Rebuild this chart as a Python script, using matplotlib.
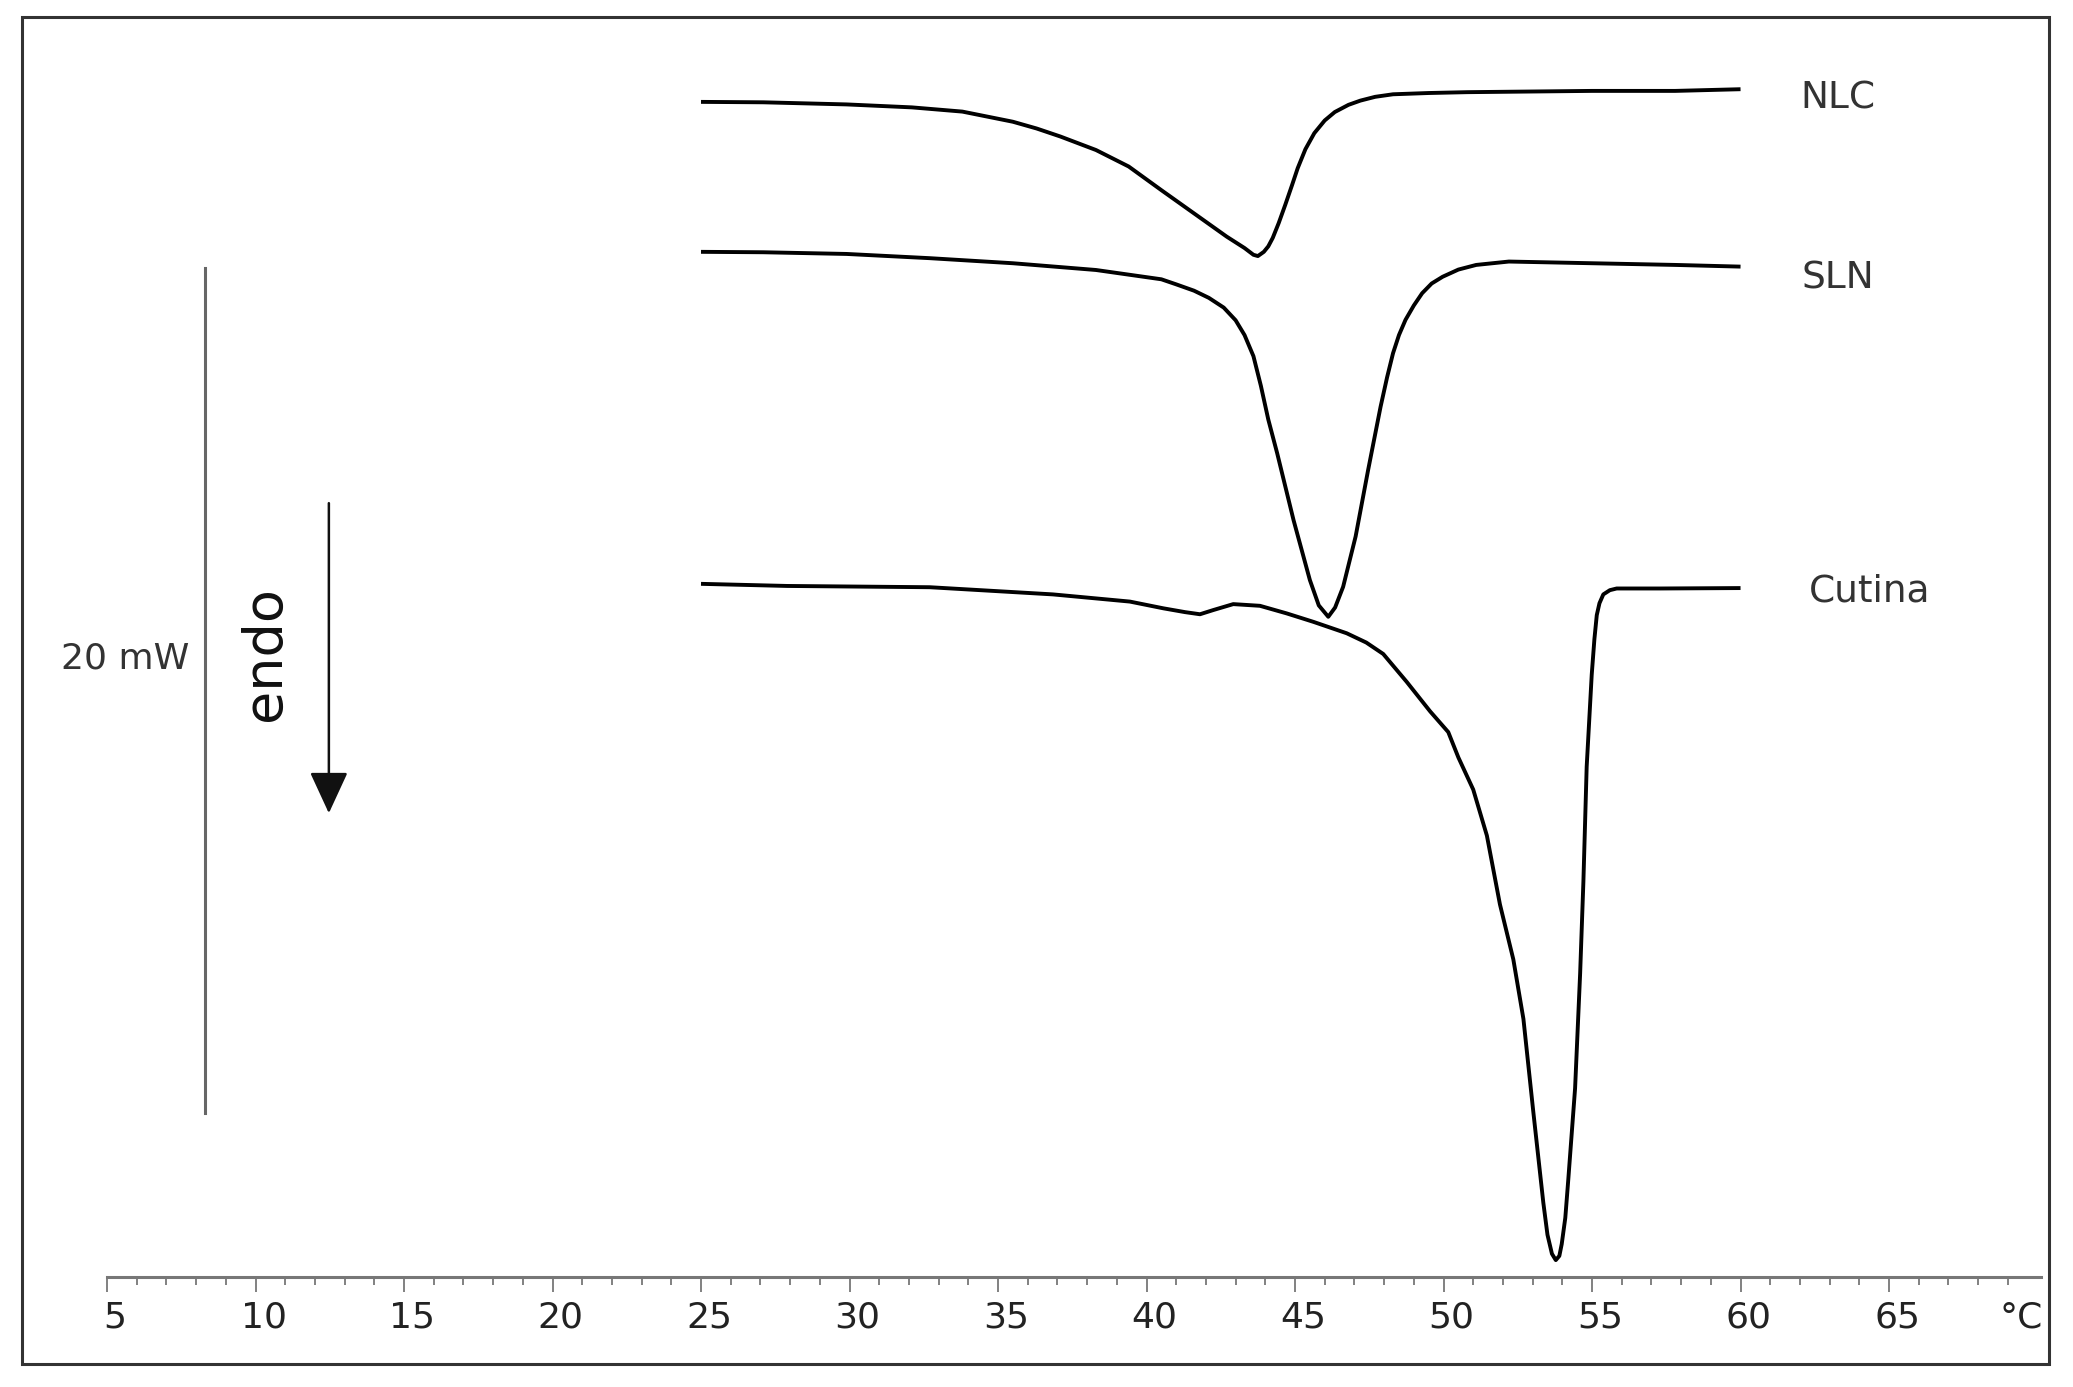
import numpy as np
import matplotlib.pyplot as plt
import matplotlib.transforms as mtransforms
from matplotlib.patches import Rectangle

# DSC thermograms, temperature (°C) vs offset heat flow (mW), endo down
nlc_t = [25.0, 27.1, 29.9, 32.1, 33.8, 35.5, 36.3, 37.1, 38.3, 39.4, 40.5, 41.6, 42.7,
         43.3, 43.6, 43.75, 43.95, 44.1, 44.25, 44.45, 44.67, 44.9, 45.09, 45.35,
         45.65, 46.0, 46.34, 46.8, 47.2, 47.7, 48.3, 49.5, 50.8, 55.0, 57.8, 60.0]
nlc_y = [27.82, 27.81, 27.76, 27.69, 27.59, 27.35, 27.19, 27.00, 26.68, 26.29, 25.73, 25.18, 24.63,
         24.36, 24.20, 24.17, 24.27, 24.40, 24.60, 24.95, 25.38, 25.85, 26.25, 26.70,
         27.08, 27.38, 27.58, 27.75, 27.85, 27.94, 28.00, 28.03, 28.05, 28.08, 28.08, 28.12]

sln_t = [25.0, 27.1, 29.9, 32.7, 35.5, 38.3, 40.5, 41.0, 41.6, 42.1, 42.6, 43.0, 43.3,
         43.6, 43.85, 44.1, 44.4, 44.95, 45.5, 45.8, 46.12, 46.35, 46.62, 47.04, 47.46,
         47.88, 48.1, 48.3, 48.5, 48.72, 49.0, 49.28, 49.6, 49.97, 50.5, 51.1, 52.2,
         55.0, 57.8, 60.0]
sln_y = [24.27, 24.26, 24.22, 24.12, 24.00, 23.84, 23.62, 23.50, 23.35, 23.18, 22.95, 22.65, 22.30,
         21.80, 21.10, 20.30, 19.50, 17.92, 16.50, 15.90, 15.63, 15.85, 16.34, 17.53, 19.10,
         20.60, 21.30, 21.87, 22.30, 22.66, 23.00, 23.29, 23.52, 23.68, 23.85, 23.96, 24.04,
         24.00, 23.96, 23.92]

cut_t = [25.0, 27.9, 32.7, 36.85, 39.44, 40.57, 41.3, 41.8, 42.25, 42.92, 43.82, 44.72,
         45.62, 46.74, 47.4, 47.97, 48.76, 49.55, 50.16, 50.5, 51.0, 51.46, 51.9, 52.35,
         52.69, 53.02, 53.36, 53.5, 53.65, 53.78, 53.9, 53.98, 54.1, 54.2, 54.43, 54.6,
         54.71, 54.82, 54.99, 55.08, 55.16, 55.25, 55.38, 55.6, 55.83, 57.3, 60.0]
cut_y = [16.41, 16.36, 16.33, 16.16, 15.99, 15.83, 15.74, 15.69, 15.79, 15.93, 15.89, 15.71,
         15.51, 15.24, 15.02, 14.75, 14.09, 13.39, 12.90, 12.30, 11.54, 10.45, 8.82, 7.52,
         6.11, 3.93, 1.76, 1.00, 0.55, 0.40, 0.50, 0.78, 1.40, 2.30, 4.47, 7.19,
         9.37, 12.08, 14.26, 15.10, 15.67, 15.95, 16.16, 16.26, 16.30, 16.30, 16.31]

names = ["NLC", "SLN", "Cutina"]
label_pos = [(62.0, 27.91), (62.05, 23.65), (62.3, 16.22)]

major_ticks = list(range(5, 70, 5))
minor_ticks = list(range(5, 70))

scale_t = 8.3
scale_lo = 3.88
scale_mw = 20

fig = plt.figure(figsize=(20.73, 13.87), dpi=100)
ax = fig.add_axes([107 / 2073, 110 / 1387, (2040.5 - 107) / 2073, 1247 / 1387])

for t, y in [(nlc_t, nlc_y), (sln_t, sln_y), (cut_t, cut_y)]:
    ax.plot(t, y, color="black", lw=2.8, solid_joinstyle="round", solid_capstyle="butt")

for name, (tx, ty) in zip(names, label_pos):
    ax.text(tx, ty, name, ha="left", va="center", fontsize=27, color="#333333")

ax.set_xlim(5, 70.1)
ax.set_ylim(0, 1247 / 42.24)

for s in ["left", "right", "top"]:
    ax.spines[s].set_visible(False)
ax.spines["bottom"].set_color("#777777")
ax.spines["bottom"].set_linewidth(2.2)

ax.set_yticks([])
ax.set_xticks(major_ticks)
ax.set_xticks(minor_ticks, minor=True)
ax.tick_params(axis="x", which="major", direction="out", length=11, width=1.3,
               color="#777777", pad=6, labelsize=26, labelcolor="#222222")
ax.tick_params(axis="x", which="minor", direction="out", length=6, width=1.3,
               color="#777777")
shift = mtransforms.ScaledTranslation(0.08, 0, fig.dpi_scale_trans)
for lab in ax.get_xticklabels():
    lab.set_transform(lab.get_transform() + shift)

ax.annotate("°C", xy=(69.45, 0), xycoords=("data", "axes fraction"),
            xytext=(0, -17), textcoords="offset points", ha="center", va="top",
            fontsize=26, color="#222222")

# scale bar and endo arrow
ax.plot([scale_t, scale_t], [scale_lo, scale_lo + scale_mw], color="#666666", lw=2.2)
ax.text(5.6, 14.65, "20 mW", ha="center", va="center", fontsize=26, color="#333333")
ax.text(10.32, 14.77, "endo", ha="center", va="center", rotation=90,
        fontsize=39, color="#111111")
ax.annotate("", xy=(12.47, 10.98), xytext=(12.47, 18.32),
            arrowprops=dict(arrowstyle="-|>,head_length=1.3,head_width=0.6",
                            mutation_scale=20, color="#111111", lw=1.8,
                            shrinkA=0, shrinkB=0))

fig.add_artist(Rectangle((22 / 2073, 23 / 1387), 2027 / 2073, 1347 / 1387,
                         transform=fig.transFigure, fill=False, lw=2.2,
                         ec="#333333"))

fig.savefig("out.png", dpi=100)
